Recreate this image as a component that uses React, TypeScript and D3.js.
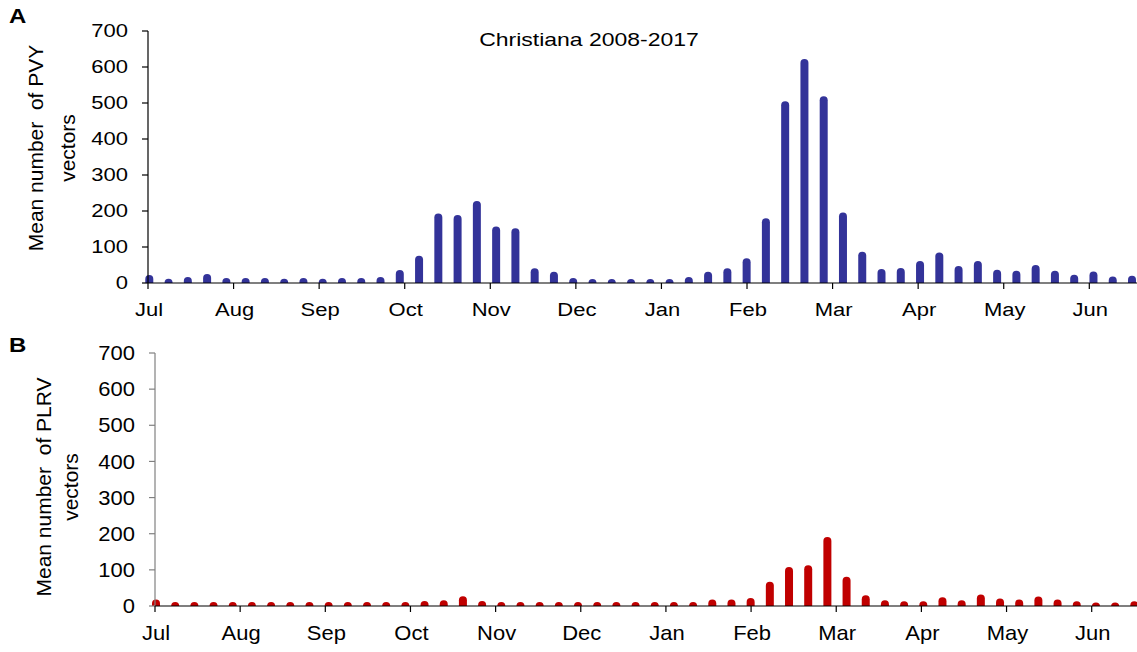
import React from 'react';
import * as d3 from 'd3';

// Weekly mean catches, July through June (52 weeks)
const MONTHS = ['Jul', 'Aug', 'Sep', 'Oct', 'Nov', 'Dec', 'Jan', 'Feb', 'Mar', 'Apr', 'May', 'Jun'];
const Y_TICKS = [0, 100, 200, 300, 400, 500, 600, 700];

const PVY = [
  22, 12, 17, 25, 14, 14, 14, 12, 14, 12, 14, 14, 17,
  36, 76, 193, 189, 228, 157,
  152, 41, 31, 14, 11, 11, 11, 11, 11, 17, 31, 41, 69, 180, 505, 622, 519,
  196, 87, 39, 42, 61, 85, 47, 61, 37, 34, 50, 34, 23, 32, 18, 20,
];

const PLRV = [
  18, 11, 11, 11, 11, 11, 11, 11, 11, 11, 11, 11, 11, 11, 14, 16, 27, 14, 11,
  11, 11, 11, 11, 11, 11, 11, 11, 11, 11, 18, 18, 22, 67, 108, 113, 191,
  81, 30, 16, 13, 13, 24, 16, 32, 21, 18, 26, 18, 13, 10, 10, 13,
];

const W = 1137;
const H = 652;
const FONT = "'Liberation Sans', Arial, Helvetica, sans-serif";

type Panel = {
  letter: string;
  letterY: number;
  values: number[];
  color: string;
  virus: string;
  yAxisColor: string;
  x0: number;
  yBottom: number;
  yTop: number;
  monthFirst: number;
  monthLast: number;
  barFirst: number;
  barLast: number;
  tickFont: number;
  tickSy: number;
  monthBaseline: number;
  labelX1: number;
  labelX2: number;
  labelY: number;
};

const panels: Panel[] = [
  {
    letter: 'A', letterY: 23, values: PVY, color: '#333399', virus: 'PVY', yAxisColor: '#000',
    x0: 148, yBottom: 283, yTop: 31, monthFirst: 148, monthLast: 1089.3, barFirst: 149.3, barLast: 1132,
    tickFont: 22, tickSy: 0.8, monthBaseline: 316, labelX1: 43, labelX2: 75, labelY: 148,
  },
  {
    letter: 'B', letterY: 352, values: PLRV, color: '#C00000', virus: 'PLRV', yAxisColor: '#808080',
    x0: 155, yBottom: 606, yTop: 353, monthFirst: 155, monthLast: 1091.7, barFirst: 156, barLast: 1134.3,
    tickFont: 22, tickSy: 0.9, monthBaseline: 640, labelX1: 51, labelX2: 78, labelY: 487,
  },
];

const BAR_W = 8;

function barPath(cx: number, top: number, base: number): string {
  const h = Math.max(base - top, 0.5);
  const rx = BAR_W / 2;
  const ry = Math.min(rx, h);
  const l = cx - rx;
  const r = cx + rx;
  return `M${l},${base}L${l},${base - h + ry}A${rx},${ry} 0 0 1 ${r},${base - h + ry}L${r},${base}Z`;
}

function PanelView({ p }: { p: Panel }) {
  const y = d3.scaleLinear().domain([0, 700]).range([p.yBottom, p.yTop]);
  const xm = d3.scaleLinear().domain([0, MONTHS.length - 1]).range([p.monthFirst, p.monthLast]);
  const xb = d3.scaleLinear().domain([0, p.values.length - 1]).range([p.barFirst, p.barLast]);
  const capH = p.tickFont * 0.716 * p.tickSy;

  return (
    <g>
      <text
        transform={`translate(9,${p.letterY}) scale(1,0.86)`}
        fontFamily={FONT}
        fontWeight="bold"
        fontSize={24}
        fill="#000"
      >
        {p.letter}
      </text>

      {/* bars */}
      {p.values.map((v, i) => (
        <path key={i} d={barPath(xb(i), y(v), p.yBottom)} fill={p.color} />
      ))}

      {/* y axis */}
      <line x1={p.x0} x2={p.x0} y1={p.yTop} y2={p.yBottom} stroke={p.yAxisColor} strokeWidth={1.2} />
      {Y_TICKS.map((t) => (
        <g key={t}>
          <line x1={p.x0 - 6} x2={p.x0} y1={y(t)} y2={y(t)} stroke={p.yAxisColor} strokeWidth={1.2} />
          <text
            transform={`translate(${p.x0 - 20},${y(t) + capH / 2}) scale(1,${p.tickSy})`}
            textAnchor="end"
            fontFamily={FONT}
            fontSize={p.tickFont}
            fill="#000"
          >
            {t}
          </text>
        </g>
      ))}

      {/* x axis */}
      <line x1={p.x0} x2={W} y1={p.yBottom} y2={p.yBottom} stroke="#000" strokeWidth={1.2} />
      {MONTHS.map((m, k) => (
        <g key={m}>
          <line x1={xm(k)} x2={xm(k)} y1={p.yBottom} y2={p.yBottom + 6} stroke="#000" strokeWidth={1.2} />
          <text
            transform={`translate(${xm(k) + 1},${p.monthBaseline}) scale(1,${p.tickSy})`}
            textAnchor="middle"
            fontFamily={FONT}
            fontSize={p.tickFont}
            fill="#000"
          >
            {m}
          </text>
        </g>
      ))}

      {/* y axis title */}
      <text
        transform={`translate(${p.labelX1},${p.labelY}) rotate(-90)`}
        textAnchor="middle"
        fontFamily={FONT}
        fontSize={21}
        fill="#000"
        style={{ whiteSpace: 'pre' }}
      >
        {`Mean number  of ${p.virus}`}
      </text>
      <text
        transform={`translate(${p.labelX2},${p.labelY}) rotate(-90)`}
        textAnchor="middle"
        fontFamily={FONT}
        fontSize={21}
        fill="#000"
      >
        vectors
      </text>
    </g>
  );
}

export default function App() {
  return (
    <svg
      width={W}
      height={H}
      viewBox={`0 0 ${W} ${H}`}
      style={{ position: 'absolute', left: 0, top: 0, display: 'block', background: '#fff' }}
    >
      <rect width={W} height={H} fill="#fff" />
      {panels.map((p) => (
        <PanelView key={p.letter} p={p} />
      ))}
      <text
        transform="translate(589,46) scale(1,0.81)"
        textAnchor="middle"
        fontFamily={FONT}
        fontSize={23}
        fill="#000"
      >
        Christiana 2008-2017
      </text>
    </svg>
  );
}
